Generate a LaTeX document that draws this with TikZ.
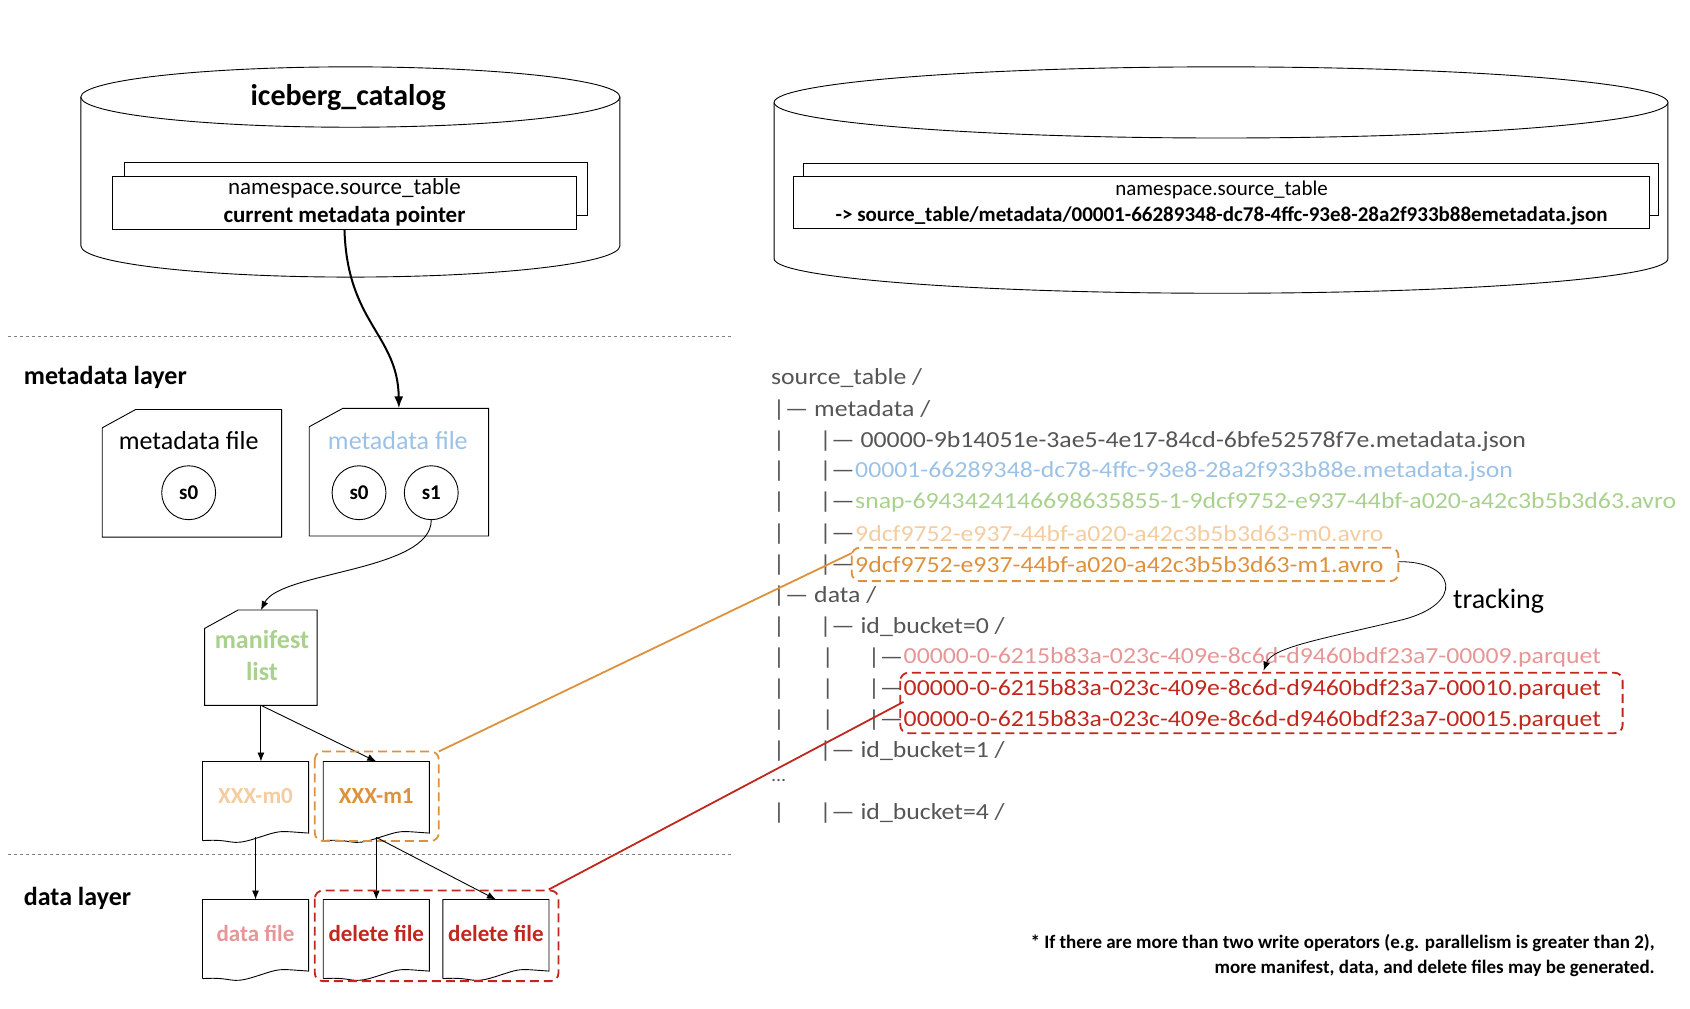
\documentclass[tikz,border=0pt]{standalone}
\usepackage{fontspec}
\setmainfont{Carlito}
\newfontfamily\treefont{Carlito}[FakeStretch=1.12]
\usetikzlibrary{arrows.meta,calc}
\definecolor{cblue}{RGB}{155,194,230}
\definecolor{cgreen}{RGB}{169,209,142}
\definecolor{clor}{RGB}{244,204,160}
\definecolor{cor}{RGB}{222,145,60}
\definecolor{cpink}{RGB}{230,150,150}
\definecolor{cred}{RGB}{192,40,30}
\definecolor{ctree}{RGB}{85,85,85}
\tikzset{
 every node/.style={inner sep=0pt},
 box/.style={minimum width={#1}, minimum height={63*1.078pt}},
 arr/.style={-{Latex[length=9pt,width=7pt]},line width=0.9pt},
 tree/.style={anchor=west,text=ctree,font=\treefont\fontsize{23}{23}\selectfont},
 dbox/.style={rounded corners=8pt,line width=1.8pt,dash pattern=on 9pt off 5pt},
 sep/.style={gray,dashed,line width=0.8pt},
 snap/.style={circle,draw,line width=0.9pt,minimum size={50*1.078pt},font=\fontsize{21}{21}\selectfont\bfseries},
}
\newcommand\docnode[5]{%
 \node[box={98*1.078pt},font=\fontsize{23}{23}\selectfont\bfseries,text=#5] (#1) at (#2,#3) {#4};
 \draw[line width=0.9pt] ($(#1.south west)+(0,10)$) -- (#1.north west) -- (#1.north east) -- ($(#1.south east)+(0,3)$)
   .. controls +(-30,-2) and +(25,-8) .. ($(#1.south)+(0,8)$) .. controls +(-25,8) and +(30,-2) .. ($(#1.south west)+(0,10)$);}
\newcommand\cardpath[1]{%
 \draw[line width=0.9pt] ($(#1.north west)+(0,17)$) -- ($(#1.north west)+(31,0)$) -- (#1.north east) -- (#1.south east) -- (#1.south west) -- cycle;}
\begin{document}
\begin{tikzpicture}[x=1.078pt,y=-1.078pt]
\useasboundingbox (0,0) rectangle (1567.5,935);
% cylinder 1
\draw[line width=0.9pt] (75,90) -- (75,228) arc[start angle=180,end angle=0,x radius=250,y radius=29] -- (575,90);
\draw[line width=0.9pt,fill=white] (325,90) ellipse[x radius=250,y radius=28];
\node[font=\fontsize{30}{30}\selectfont\bfseries] (cat) at (323,90) {iceberg\_catalog};
\draw[line width=0.9pt,fill=white] (115,151) rectangle (545,200);
\node[draw,line width=0.9pt,fill=white,minimum width={431*1.078pt},minimum height={49*1.078pt},align=center,font=\fontsize{23}{28}\selectfont] (ptr) at (319.5,188) {namespace.source\_table\\\textbf{current metadata pointer}};
% cylinder 2
\draw[line width=0.9pt] (718,95) -- (718,240) arc[start angle=180,end angle=0,x radius=414.5,y radius=32] -- (1547,95);
\draw[line width=0.9pt,fill=white] (1132.5,95) ellipse[x radius=414.5,y radius=33];
\draw[line width=0.9pt,fill=white] (745,152) rectangle (1538,200);
\node[draw,line width=0.9pt,fill=white,minimum width={794*1.078pt},minimum height={48*1.078pt},align=center,font=\fontsize{21}{26}\selectfont] (ptr2) at (1133,188) {namespace.source\_table\\\textbf{-> source\_table/metadata/00001-66289348-dc78-4ffc-93e8-28a2f933b88emetadata.json}};
% separators
\draw[sep] (7,312) -- (678,312);
\draw[sep] (7,792) -- (678,792);
\node[anchor=west,font=\fontsize{26}{26}\selectfont\bfseries] (ml) at (22,350) {metadata layer};
\node[anchor=west,font=\fontsize{26}{26}\selectfont\bfseries] (dl) at (22,833) {data layer};
% metadata files
\node[minimum width={166*1.078pt},minimum height={118*1.078pt}] (mf1) at (178,439) {};
\cardpath{mf1}
\node[font=\fontsize{26}{26}\selectfont] (mf1t) at (175,409) {metadata file};
\node[snap] (s0a) at (175,457) {s0};
\node[minimum width={166*1.078pt},minimum height={118*1.078pt}] (mf2) at (370,438) {};
\cardpath{mf2}
\node[font=\fontsize{26}{26}\selectfont,text=cblue] (mf2t) at (369,409) {metadata file};
\node[snap] (s0b) at (333,457) {s0};
\node[snap] (s1) at (400,457) {s1};
\draw[-{Latex[length=12pt,width=9pt]},line width=2pt] (ptr.south) .. controls (322,300) and (369,310) .. (mf2.north);
% manifest list
\node[minimum width={104*1.078pt},minimum height={88*1.078pt}] (mlst) at (242,610) {};
\cardpath{mlst}
\node[align=center,font=\fontsize{26}{32}\selectfont\bfseries,text=cgreen] (mlt) at (243,608) {manifest\\list};
\draw[arr] (s1.south) .. controls (400,530) and (260,530) .. (mlst.north);
% manifests
\docnode{m0}{237}{738}{XXX-m0}{clor}
\docnode{m1}{349}{738}{XXX-m1}{cor}
\draw[arr] (mlst.south) -- (m0.north -| mlst.south);
\draw[arr] (mlst.south) -- (m1.north);
\draw[cor,dbox] (292,697) rectangle (407,780);
% data files
\docnode{df}{237}{866}{data file}{cpink}
\docnode{del1}{349}{866}{delete file}{cred}
\docnode{del2}{460}{866}{delete file}{cred}
\draw[arr] ($(m0.south)+(0,7)$) -- (df.north);
\draw[arr] ($(m1.south)+(0,7)$) -- (del1.north);
\draw[arr] ($(m1.south)+(0,7)$) -- (del2.north);
\draw[cred,dbox] (292,826) rectangle (518,910);
% tree
\node[tree] (t1) at (715,351) {source\_table /};
\node[tree] (t2) at (717,380) {|— metadata /};
\foreach \y/\n in {409/a,437/b,466/c,495/d,524/e} { \node[tree] (p\n) at (717,\y) {|}; }
\node[tree] (f1) at (760,409) {|— 00000-9b14051e-3ae5-4e17-84cd-6bfe52578f7e.metadata.json};
\node[tree] (f2a) at (760,437) {|— };
\node[tree,text=cblue] (f2) at (f2a.east) {00001-66289348-dc78-4ffc-93e8-28a2f933b88e.metadata.json};
\node[tree] (f3a) at (760,466) {|— };
\node[tree,text=cgreen] (f3) at (f3a.east) {snap-6943424146698635855-1-9dcf9752-e937-44bf-a020-a42c3b5b3d63.avro};
\node[tree] (f4a) at (760,495) {|— };
\node[tree,text=clor] (f4) at (f4a.east) {9dcf9752-e937-44bf-a020-a42c3b5b3d63-m0.avro};
\node[tree] (f5a) at (760,524) {|— };
\node[tree,text=cor] (f5) at (f5a.east) {9dcf9752-e937-44bf-a020-a42c3b5b3d63-m1.avro};
\node[tree] (t8) at (717,553) {|— data /};
\foreach \y/\n in {582/f,610/g,639/h,668/i,697/j,754/k} { \node[tree] (q\n) at (717,\y) {|}; }
\node[tree] (b0) at (760,582) {|— id\_bucket=0 /};
\foreach \y/\n in {610/a,639/b,668/c} { \node[tree] (r\n) at (762,\y) {|}; }
\node[tree] (g1a) at (805,610) {|— };
\node[tree,text=cpink] (g1) at (g1a.east) {00000-0-6215b83a-023c-409e-8c6d-d9460bdf23a7-00009.parquet};
\node[tree] (g2a) at (805,639) {|— };
\node[tree,text=cred] (g2) at (g2a.east) {00000-0-6215b83a-023c-409e-8c6d-d9460bdf23a7-00010.parquet};
\node[tree] (g3a) at (805,668) {|— };
\node[tree,text=cred] (g3) at (g3a.east) {00000-0-6215b83a-023c-409e-8c6d-d9460bdf23a7-00015.parquet};
\node[tree] (b1) at (760,697) {|— id\_bucket=1 /};
\node[tree,font=\treefont\fontsize{18}{18}\selectfont] (dots) at (715,724) {...};
\node[tree] (b4) at (760,754) {|— id\_bucket=4 /};
% highlight boxes
\draw[cor,dbox] (790,508) rectangle (1297,539);
\draw[cred,dbox] (835,624) rectangle (1505,680);
\coordinate (obox) at (790,513);
\coordinate (rbox) at (838,651);
\draw[cor,line width=1.8pt] (407,697) -- (obox);
\draw[cred,line width=1.8pt] (509,825) -- (rbox);
% tracking
\coordinate (tr0) at (1297,521);
\coordinate (tr1) at (1172,622);
\draw[arr,line width=0.8pt] (tr0) .. controls (1350,520) and (1360,560) .. (1300,575) .. controls (1230,592) and (1180,600) .. (tr1);
\node[font=\fontsize{28}{28}\selectfont] (trk) at (1390,558) {tracking};
% footnote
\node[anchor=east,align=right,font=\fontsize{19}{25}\selectfont\bfseries] (fn) at (1535,886) {* If there are more than two write operators (e.g. parallelism is greater than 2),\\more manifest, data, and delete files may be generated.};
\end{tikzpicture}
\end{document}
